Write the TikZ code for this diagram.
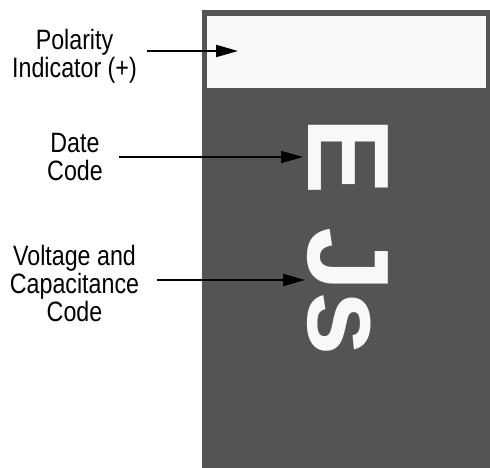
\documentclass[tikz,border=0pt]{standalone}
\usepackage{fontspec}
\setmainfont{Liberation Sans}
\newfontfamily\labelfont[FakeStretch=0.83]{Liberation Sans}
\usetikzlibrary{arrows.meta}
\definecolor{chipgray}{HTML}{545454}
\definecolor{bandwhite}{HTML}{F8F8F8}
\begin{document}
\begin{tikzpicture}[x=1pt,y=-1pt,
  lbl/.style={font=\labelfont\fontsize{28}{28}\selectfont, align=center, inner sep=0pt, text=black},
  pointer/.style={line width=2pt, draw=black, -{Triangle[length=22pt,width=12pt]}},
  code/.style={font=\bfseries\fontsize{116}{116}\selectfont, text=bandwhite, inner sep=0pt, rotate=-90, anchor=base west}
]
\useasboundingbox[fill=white] (0,0) rectangle (490,468);
% capacitor body
\fill[chipgray] (202,10) rectangle (490,468);
% polarity band
\fill[bandwhite] (207,16) rectangle (486,88);
% printed code
\node[code] (marking) at (308,117.5) {E Js};
% labels
\node[lbl] (polarity) at (74.5,56) {Polarity\\Indicator (+)};
\node[lbl] (date) at (75,157) {Date\\Code};
\node[lbl] (voltage) at (74.5,283) {Voltage and\\Capacitance\\Code};
% arrow ends
\coordinate (p1) at (147,51);
\coordinate (p2) at (238,51);
\coordinate (d1) at (119,157);
\coordinate (d2) at (303,157);
\coordinate (v1) at (157,280);
\coordinate (v2) at (305,280);
\draw[pointer] (p1) -- (p2);
\draw[pointer] (d1) -- (d2);
\draw[pointer] (v1) -- (v2);
\end{tikzpicture}
\end{document}
